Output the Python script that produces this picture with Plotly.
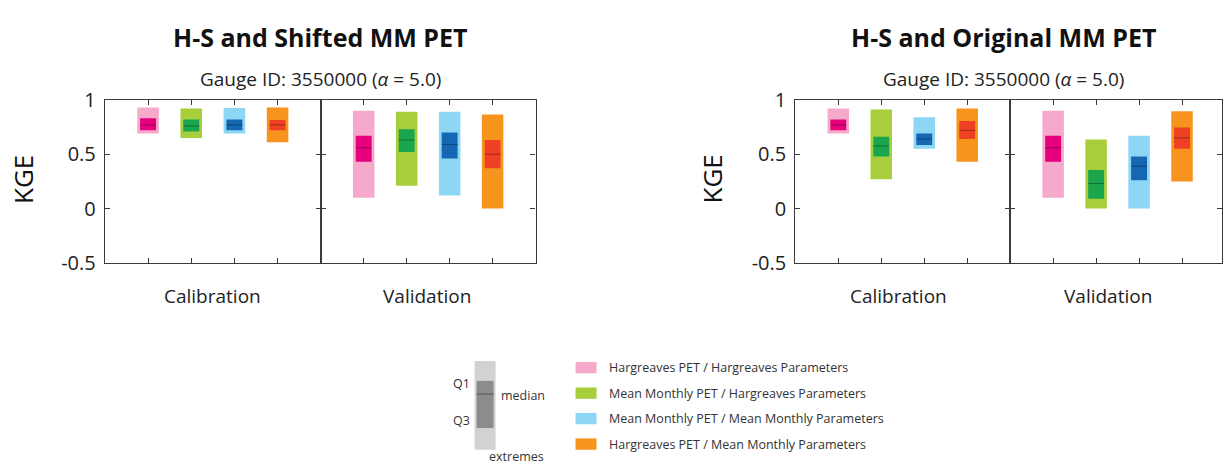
import plotly.graph_objects as go

# ---- data -----------------------------------------------------------------
series = [
    "Hargreaves PET / Hargreaves Parameters",
    "Mean Monthly PET / Hargreaves Parameters",
    "Mean Monthly PET / Mean Monthly Parameters",
    "Hargreaves PET / Mean Monthly Parameters",
]
positions = [1, 2, 3, 4]
light_colors = ["#F5A9CB", "#A8CE3B", "#8DD6F6", "#F7941E"]
dark_colors = ["#E6007E", "#1AA64C", "#1567B3", "#EE4124"]

# H-S and Shifted MM PET, calibration period
sh_cal_min = [0.69, 0.65, 0.69, 0.61]
sh_cal_qlo = [0.72, 0.71, 0.72, 0.72]
sh_cal_med = [0.77, 0.76, 0.77, 0.77]
sh_cal_qhi = [0.83, 0.82, 0.82, 0.815]
sh_cal_max = [0.93, 0.92, 0.925, 0.93]

# H-S and Shifted MM PET, validation period
sh_val_min = [0.10, 0.21, 0.12, 0.0]
sh_val_qlo = [0.43, 0.52, 0.46, 0.37]
sh_val_med = [0.56, 0.63, 0.59, 0.50]
sh_val_qhi = [0.67, 0.73, 0.70, 0.63]
sh_val_max = [0.90, 0.89, 0.89, 0.865]

# H-S and Original MM PET, calibration period
og_cal_min = [0.69, 0.27, 0.55, 0.43]
og_cal_qlo = [0.72, 0.48, 0.585, 0.64]
og_cal_med = [0.77, 0.575, 0.64, 0.72]
og_cal_qhi = [0.82, 0.66, 0.69, 0.805]
og_cal_max = [0.92, 0.91, 0.84, 0.92]

# H-S and Original MM PET, validation period
og_val_min = [0.10, 0.0, 0.0, 0.25]
og_val_qlo = [0.43, 0.09, 0.26, 0.55]
og_val_med = [0.56, 0.23, 0.39, 0.65]
og_val_qhi = [0.67, 0.355, 0.48, 0.745]
og_val_max = [0.90, 0.635, 0.67, 0.895]

panel_titles = ["H-S and Shifted MM PET", "H-S and Original MM PET"]
subtitle = "Gauge ID: 3550000 (<i>α</i> = 5.0)"
period_labels = ["Calibration", "Validation"]
y_ticks = [-0.5, 0, 0.5, 1]
y_ticktext = ["-0.5", "0", "0.5", "1"]

# ---- layout helpers ---------------------------------------------------------
W, H = 1223, 475
FONT = "Open Sans"
AXC = "#3a3a3a"


def fx(p):
    return p / W


def fy(p):
    return 1 - p / H


OUTER_W = 0.5
INNER_W = 0.37

fig = go.Figure()

groups = [
    ("x", "y", sh_cal_min, sh_cal_qlo, sh_cal_med, sh_cal_qhi, sh_cal_max),
    ("x2", "y2", sh_val_min, sh_val_qlo, sh_val_med, sh_val_qhi, sh_val_max),
    ("x3", "y3", og_cal_min, og_cal_qlo, og_cal_med, og_cal_qhi, og_cal_max),
    ("x4", "y4", og_val_min, og_val_qlo, og_val_med, og_val_qhi, og_val_max),
]

for xa, ya, lo, qlo, med, qhi, hi in groups:
    # extremes (light) and interquartile range (dark)
    fig.add_trace(go.Bar(
        x=positions, base=lo, y=[h - l for l, h in zip(lo, hi)],
        width=OUTER_W, marker=dict(color=light_colors, line=dict(width=0)),
        xaxis=xa, yaxis=ya, showlegend=False, hoverinfo="skip",
    ))
    fig.add_trace(go.Bar(
        x=positions, base=qlo, y=[h - l for l, h in zip(qlo, qhi)],
        width=INNER_W, marker=dict(color=dark_colors, line=dict(width=0)),
        xaxis=xa, yaxis=ya, showlegend=False, hoverinfo="skip",
    ))
    # median ticks across the interquartile boxes
    mx, my = [], []
    for p, m in zip(positions, med):
        mx += [p - INNER_W / 2, p + INNER_W / 2, None]
        my += [m, m, None]
    fig.add_trace(go.Scatter(
        x=mx, y=my, mode="lines", line=dict(color="rgba(0,0,0,0.35)", width=1),
        xaxis=xa, yaxis=ya, showlegend=False, hoverinfo="skip",
    ))

# pixel extents of the four half-panels
x_doms = [(105, 321), (321, 536), (796, 1011), (1011, 1226)]
y_dom = [fy(264), fy(91)]

axis_common = dict(
    showline=True, linecolor=AXC, linewidth=1.3, mirror="ticks",
    ticks="inside", ticklen=5, tickwidth=1.3, tickcolor=AXC,
    showgrid=False, zeroline=False, fixedrange=True,
)

for i, (a, b) in enumerate(x_doms):
    xname = "xaxis" if i == 0 else f"xaxis{i + 1}"
    yname = "yaxis" if i == 0 else f"yaxis{i + 1}"
    anchor_y = "y" if i == 0 else f"y{i + 1}"
    anchor_x = "x" if i == 0 else f"x{i + 1}"
    # last half-panel runs past the page edge; clip its range at the edge
    b_clip = min(b, W)
    xmax = 5 * (b_clip - a) / (b - a)
    fig.layout[xname] = dict(
        domain=[fx(a), fx(b_clip)], range=[0, xmax], anchor=anchor_y,
        tickvals=positions, showticklabels=False, **axis_common,
    )
    fig.layout[yname] = dict(
        domain=y_dom, range=[-0.5, 1], anchor=anchor_x,
        tickvals=y_ticks, ticktext=y_ticktext,
        showticklabels=(i % 2 == 0), ticklabelstandoff=4,
        tickfont=dict(family=FONT, size=20, color="#222"),
        **axis_common,
    )

fig.update_layout(barmode="overlay")

annotations = []
shapes = []

# panel titles, subtitles, y titles, period labels
panel_centers = [321, 1004]
ykge_x = [23, 713]
period_centers = [(213, 427), (899, 1109)]
for k in range(2):
    annotations.append(dict(
        text=f"<b>{panel_titles[k]}</b>", x=fx(panel_centers[k]), y=fy(24),
        xref="paper", yref="paper", showarrow=False, xanchor="center", yanchor="middle",
        font=dict(family=FONT, size=25, color="#111"),
    ))
    annotations.append(dict(
        text=subtitle, x=fx(panel_centers[k]), y=fy(69),
        xref="paper", yref="paper", showarrow=False, xanchor="center", yanchor="middle",
        font=dict(family=FONT, size=19, color="#222"),
    ))
    annotations.append(dict(
        text="KGE", x=fx(ykge_x[k]), y=fy(175), textangle=-90,
        xref="paper", yref="paper", showarrow=False, xanchor="center", yanchor="middle",
        font=dict(family=FONT, size=26, color="#111"),
    ))
    for j in range(2):
        annotations.append(dict(
            text=period_labels[j], x=fx(period_centers[k][j]), y=fy(299),
            xref="paper", yref="paper", showarrow=False, xanchor="center", yanchor="middle",
            font=dict(family=FONT, size=19, color="#222"),
        ))

# box-glyph key
shapes.append(dict(type="rect", xref="paper", yref="paper",
                   x0=fx(475), x1=fx(496), y0=fy(462), y1=fy(368),
                   fillcolor="#D2D2D2", line=dict(width=0)))
shapes.append(dict(type="rect", xref="paper", yref="paper",
                   x0=fx(477), x1=fx(494), y0=fy(439), y1=fy(389),
                   fillcolor="#8C8C8C", line=dict(width=0)))
shapes.append(dict(type="line", xref="paper", yref="paper",
                   x0=fx(477), x1=fx(494), y0=fy(403), y1=fy(403),
                   line=dict(color="#555555", width=1)))
key_font = dict(family=FONT, size=12.5, color="#333")
for txt, xx, yy, anc in [("Q1", 472, 392, "right"), ("Q3", 472, 431, "right"),
                         ("median", 499, 404, "left"), ("extremes", 487, 469, "left")]:
    annotations.append(dict(text=txt, x=fx(xx), y=fy(yy), xref="paper", yref="paper",
                            showarrow=False, xanchor=anc, yanchor="middle", font=key_font))

# colour key
row_y = [375, 402, 429, 456]
for name, col, ry in zip(series, light_colors, row_y):
    shapes.append(dict(type="rect", xref="paper", yref="paper",
                       x0=fx(576), x1=fx(597), y0=fy(ry + 6), y1=fy(ry - 6),
                       fillcolor=col, line=dict(width=0)))
    annotations.append(dict(text=name, x=fx(607), y=fy(ry), xref="paper", yref="paper",
                            showarrow=False, xanchor="left", yanchor="middle", font=key_font))

fig.update_layout(
    width=W, height=H,
    margin=dict(l=0, r=0, t=0, b=0),
    paper_bgcolor="white", plot_bgcolor="white",
    annotations=annotations, shapes=shapes,
    showlegend=False,
    font=dict(family=FONT),
)

fig.write_html("out.html", config={"displayModeBar": False})
